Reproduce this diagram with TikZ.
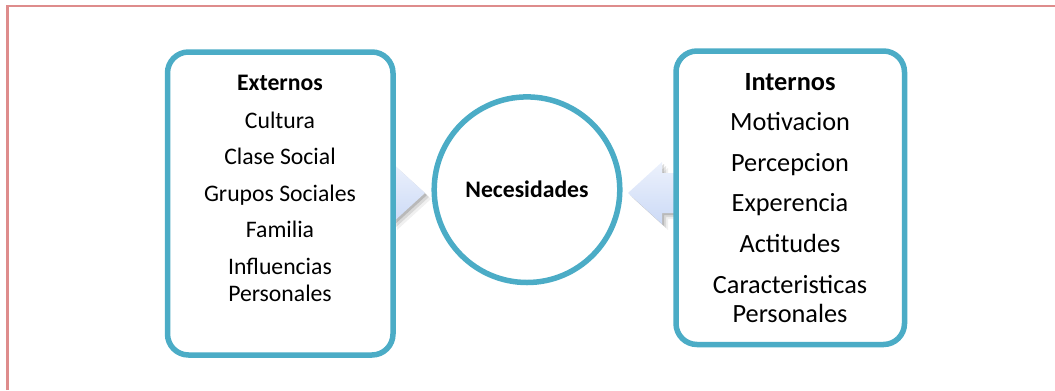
\documentclass[tikz,border=0pt]{standalone}
\usepackage{fontspec}
\setmainfont{Carlito}
\usetikzlibrary{shapes.geometric,shadows}
\definecolor{boxblue}{RGB}{75,172,198}
\definecolor{framepink}{RGB}{222,140,140}
\definecolor{arrtop}{RGB}{236,241,252}
\definecolor{arrbot}{RGB}{204,218,246}
\tikzset{
  frame box/.style={draw=boxblue, line width=5.5bp, rounded corners=21bp, fill=white, inner sep=0pt},
  need circle/.style={circle, draw=boxblue, line width=5.5bp, fill=white, inner sep=0pt, minimum size=185.6bp},
  ltxt/.style={anchor=base, inner sep=0pt, font=\fontsize{23.7bp}{28bp}\selectfont},
  rtxt/.style={anchor=base, inner sep=0pt, font=\fontsize{26.3bp}{31bp}\selectfont},
  block arrow/.style={top color=arrtop, bottom color=arrbot, draw=none}
}
\begin{document}
\begin{tikzpicture}[x=1bp,y=-1bp]
\useasboundingbox (0,0) rectangle (1055,390);
% page frame
\draw[framepink, line width=2.2bp] (7.5,390) -- (7.5,6.2) -- (1055,6.2);
% anchor coordinates for arrows
\coordinate (la) at (425,193);
\coordinate (ra) at (628,193);
% shadows of block arrows
\foreach \d/\o in {2/0.14,4/0.10,6/0.06}{
  \fill[black, opacity=\o] ([shift={(\d,\d)}]la) -- ++(-34,-31) -- ++(0,11) -- ++(-30,0) -- ++(0,40) -- ++(30,0) -- ++(0,11) -- cycle;
  \fill[black, opacity=\o] ([shift={(\d,\d)}]ra) -- ++(34,-31) -- ++(0,11) -- ++(40,0) -- ++(0,40) -- ++(-40,0) -- ++(0,11) -- cycle;
}
% block arrows
\path[block arrow] (la) -- ++(-34,-31) -- ++(0,11) -- ++(-30,0) -- ++(0,40) -- ++(30,0) -- ++(0,11) -- cycle;
\path[block arrow] (ra) -- ++(34,-31) -- ++(0,11) -- ++(40,0) -- ++(0,40) -- ++(-40,0) -- ++(0,11) -- cycle;
% boxes
\node[frame box, minimum width=225.5bp, minimum height=303bp] (ext) at (280.25,203.5) {};
\node[frame box, minimum width=228.5bp, minimum height=293.5bp] (int) at (790.25,197.75) {};
\node[need circle] (nec) at (527,189.7) {};
\node[font=\fontsize{23.7bp}{28bp}\selectfont\bfseries, inner sep=0pt] (nect) at (nec) {Necesidades};
% left texts
\node[ltxt, font=\fontsize{23.7bp}{28bp}\selectfont\bfseries] (e0) at (280,90.7) {Externos};
\node[ltxt] (e1) at (280,128) {Cultura};
\node[ltxt] (e2) at (280,164.5) {Clase Social};
\node[ltxt] (e3) at (280,201) {Grupos Sociales};
\node[ltxt] (e4) at (280,237.5) {Familia};
\node[ltxt] (e5) at (280,274) {Influencias};
\node[ltxt] (e6) at (280,301) {Personales};
% right texts
\node[rtxt, font=\fontsize{26.3bp}{31bp}\selectfont\bfseries] (i0) at (790,90) {Internos};
\node[rtxt] (i1) at (790,130.5) {Motivacion};
\node[rtxt] (i2) at (790,171) {Percepcion};
\node[rtxt] (i3) at (790,211.5) {Experencia};
\node[rtxt] (i4) at (790,252.5) {Actitudes};
\node[rtxt] (i5) at (790,293) {Caracteristicas};
\node[rtxt] (i6) at (790,322.5) {Personales};
\end{tikzpicture}
\end{document}
